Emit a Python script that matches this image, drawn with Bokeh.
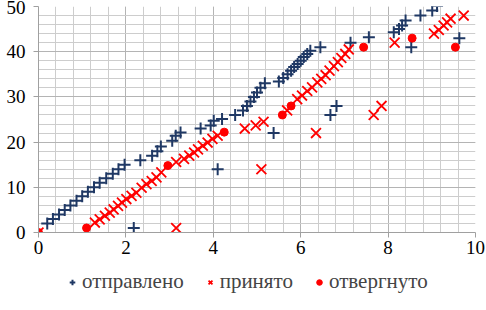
from bokeh.plotting import figure
from bokeh.layouts import column
from bokeh.models import SingleIntervalTicker, Legend, LegendItem
from bokeh.embed import file_html
from bokeh.resources import INLINE

# ---- data ----
sent_x = [2.18, 0.2, 0.33, 0.47, 0.6, 0.73, 0.87, 1.0, 1.13, 1.27, 1.4, 1.55, 1.7, 1.83, 1.97,
          2.33, 2.6, 2.72, 2.8, 3.06, 3.14, 3.25, 3.71, 3.94, 4.01, 4.2, 4.5,
          4.68, 4.77, 4.85, 4.93, 5.0, 5.08, 5.18,
          5.5, 5.6, 5.7, 5.78, 5.85, 5.93, 6.0, 6.07, 6.15, 6.22, 6.45,
          7.14, 7.56, 8.13, 8.25, 8.32, 8.4, 8.74, 9.01, 9.12,
          4.1, 5.38, 6.68, 6.82, 8.53, 9.63]
sent_y = [1, 2, 3, 4, 5, 6, 7, 8, 9, 10, 11, 12, 13, 14, 15,
          16, 17, 18, 19, 20.3, 21.4, 22.1, 23, 23.7, 24.7, 25.1, 26,
          27, 28, 29, 30, 31, 32, 33,
          33.4, 34.2, 35, 35.8, 36.6, 37.3, 38, 38.8, 39.5, 40.2, 41,
          42, 43.2, 44.3, 45, 45.8, 46.9, 48, 49.1, 50.1,
          14, 22, 26, 28, 41, 43]

acc_x = [0, 1.29, 1.4, 1.52, 1.63, 1.72, 1.82, 1.91, 2.01, 2.13, 2.24, 2.36, 2.47, 2.59, 2.7, 2.81,
         3.15, 3.33, 3.45, 3.56, 3.65, 3.76, 3.87, 3.98, 4.1,
         4.72, 4.97, 5.15, 5.69,
         5.92, 6.03, 6.15, 6.26, 6.38, 6.47, 6.57, 6.66, 6.76, 6.85, 6.93, 7.02, 7.1,
         7.67, 7.85, 8.15, 9.05, 9.16, 9.27, 9.35, 9.43, 9.73,
         3.15, 5.1, 6.35]
acc_y = [0, 2.2, 2.9, 3.7, 4.4, 5.1, 5.9, 6.6, 7.4, 8.1, 8.8, 9.9, 10.7, 11.4, 12.2, 13.3,
         15.6, 16.3, 17, 17.7, 18.4, 19.2, 19.9, 20.7, 21.4,
         23, 23.7, 24.5, 27,
         29.5, 30.3, 31.3, 32.1, 33.2, 34, 34.8, 35.8, 36.8, 37.7, 38.6, 39.5, 40.5,
         26, 28, 42, 44, 44.8, 45.8, 46.5, 47.3, 48,
         1, 14, 22]

rej_x = [0, 1.1, 2.96, 4.25, 5.58, 5.78, 7.44, 8.55, 9.54]
rej_y = [0, 1, 14.8, 22.2, 26, 28, 41, 43, 41]

x_ticks_interval = 2
y_ticks_interval = 10
labels = ["отправлено", "принято", "отвергнуто"]

FONT = "Liberation Serif"
NAVY = "#1f3864"
RED = "#ff0000"

p = figure(width=486, height=262, x_range=(0, 10), y_range=(0, 50),
           output_backend="svg", toolbar_location=None,
           min_border_left=38, min_border_right=11, min_border_top=6, min_border_bottom=30)
p.outline_line_color = None
p.background_fill_color = "white"

p.xaxis.ticker = SingleIntervalTicker(interval=x_ticks_interval, num_minor_ticks=5)
p.yaxis.ticker = SingleIntervalTicker(interval=y_ticks_interval, num_minor_ticks=5)

for ax in (p.xaxis, p.yaxis):
    ax.axis_line_color = "#a0a0a0"
    ax.major_tick_line_color = "#a0a0a0"
    ax.major_tick_in = 0
    ax.major_tick_out = 5
    ax.minor_tick_line_color = None
    ax.major_label_text_font = FONT
    ax.major_label_text_font_size = "19px"
    ax.major_label_text_color = "black"
p.xaxis.major_label_standoff = 3
p.yaxis.major_label_standoff = 8

for g in (p.xgrid, p.ygrid):
    g.grid_line_color = "#b4b4b4"
    g.minor_grid_line_color = "#cdcdcd"

sent_style = dict(marker="cross", size=12, line_width=2, line_color=NAVY)
acc_style = dict(marker="x", size=14, line_width=1.8, line_color=RED)
rej_style = dict(marker="circle", size=8, fill_color=RED, line_color=RED)

p.scatter(sent_x, sent_y, **sent_style)
p.scatter(acc_x, acc_y, **acc_style)
p.scatter(rej_x, rej_y, **rej_style)

# legend strip below the chart: its own small figure whose ranges hide the
# key renderers, so that only the legend entries show
p2 = figure(width=486, height=48, x_range=(-100, -99), y_range=(-100, -99),
            output_backend="svg", toolbar_location=None, min_border=0,
            x_axis_location=None, y_axis_location=None)
p2.grid.visible = False
p2.outline_line_color = None
k1 = p2.scatter(sent_x[:1], sent_y[:1], **sent_style)
k2 = p2.scatter(acc_x[:1], acc_y[:1], **acc_style)
k3 = p2.scatter(rej_x[:1], rej_y[:1], **rej_style)
legend = Legend(items=[LegendItem(label=labels[0], renderers=[k1]),
                       LegendItem(label=labels[1], renderers=[k2]),
                       LegendItem(label=labels[2], renderers=[k3])],
                orientation="horizontal", location=(27, 16),
                label_text_font=FONT, label_text_font_size="21px",
                glyph_width=14, glyph_height=20, label_standoff=3, spacing=19,
                padding=0, margin=0, border_line_color=None, background_fill_alpha=0)
p2.add_layout(legend, "center")

layout = column(p, p2, spacing=0)

open("out.html", "w").write(file_html(layout, INLINE))
